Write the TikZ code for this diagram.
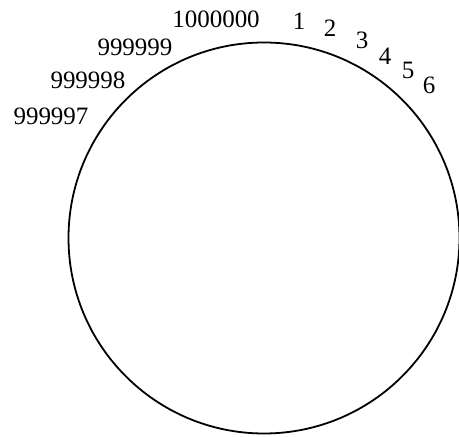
\documentclass[tikz,border=0pt]{standalone}
\usepackage{fontspec}
\setmainfont{Liberation Serif}

\begin{document}
\begin{tikzpicture}[x=1pt,y=1pt,font=\fontsize{25}{30}\selectfont]
  \useasboundingbox (0,0) rectangle (459,437);
  \draw[line width=1.8pt] (264,199) circle[radius=195.5];
  \foreach \lab/\x/\y in {1/299/416, 2/330/409, 3/362/397, 4/385/381, 5/408/367, 6/429/352}
    \node (n\lab) at (\x,\y) {\lab};
  \node (top) at (216,418) {1000000};
  \node (m1) at (135,390) {999999};
  \node (m2) at (88,357) {999998};
  \node (m3) at (51,321) {999997};
\end{tikzpicture}
\end{document}
